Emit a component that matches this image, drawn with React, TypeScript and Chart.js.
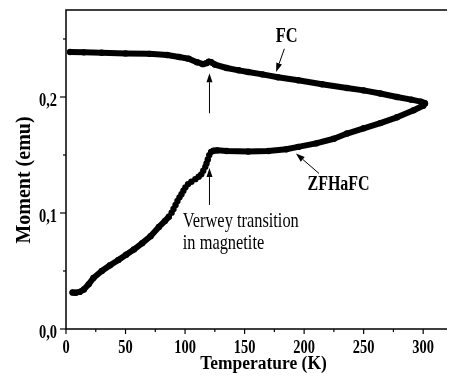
import React, { useEffect, useRef } from "react";
import { Chart, registerables } from "chart.js";

Chart.register(...registerables);

// ---- Data ----
const FC_T = [3.5, 15, 30, 50, 70, 85, 95, 103, 110, 115, 118, 120, 122, 125, 135, 145, 153, 165, 178, 195, 215, 236, 250, 264, 278, 290, 298, 301];
const FC_M = [0.2388, 0.2385, 0.2381, 0.2376, 0.2372, 0.2362, 0.2345, 0.233, 0.23, 0.2283, 0.2292, 0.2305, 0.23, 0.228, 0.225, 0.223, 0.2215, 0.2195, 0.217, 0.2144, 0.211, 0.2078, 0.2057, 0.203, 0.2, 0.1977, 0.196, 0.1948];

const ZF_T = [5.5, 8, 11.5, 15, 19, 23, 30, 37, 44, 50.5, 57, 64, 71, 78, 83, 86.4, 88.7, 90.3, 92, 93.6, 95.3, 97, 98.6, 100.3, 102.5, 105.3, 108.6, 111.4, 113.6, 115.3, 117, 118, 119.1, 120.3, 121.9, 124, 127, 135, 153, 170, 185, 195, 210, 225, 236, 250, 264, 278, 292, 300, 301.5];
const ZF_M = [0.0315, 0.0313, 0.032, 0.034, 0.0385, 0.044, 0.05, 0.055, 0.0595, 0.064, 0.0685, 0.074, 0.08, 0.088, 0.093, 0.0968, 0.1003, 0.1034, 0.1069, 0.1103, 0.1135, 0.1161, 0.1192, 0.1221, 0.1249, 0.1269, 0.1292, 0.1312, 0.1333, 0.1364, 0.1398, 0.1427, 0.1462, 0.1499, 0.1527, 0.1537, 0.154, 0.1535, 0.153, 0.1535, 0.155, 0.157, 0.16, 0.164, 0.1685, 0.173, 0.1775, 0.1825, 0.1886, 0.1925, 0.1945];

// ---- Axes ----
const X_MIN = 0;
const X_MAX = 320;
const Y_MIN = 0;
const Y_MAX = 0.275;
const X_TICKS = [0, 25, 50, 75, 100, 125, 150, 175, 200, 225, 250, 275, 300];
const X_TICK_LABELS = ["0", "", "50", "", "100", "", "150", "", "200", "", "250", "", "300"];
const Y_TICKS = [0, 0.05, 0.1, 0.15, 0.2, 0.25];
const Y_TICK_LABELS = ["0,0", "", "0,1", "", "0,2", ""];

const X_TITLE = "Temperature (K)";
const Y_TITLE = "Moment (emu)";
const FC_LABEL = "FC";
const ZF_LABEL = "ZFHaFC";
const VERWEY_LINES = ["Verwey transition", "in magnetite"];

const SERIF = "'Liberation Serif', 'Times New Roman', serif";

function drawText(ctx: CanvasRenderingContext2D, s: string, x: number, y: number, font: string, align: CanvasTextAlign, sx: number) {
  ctx.save();
  ctx.translate(x, y);
  ctx.scale(sx, 1);
  ctx.font = font;
  ctx.textAlign = align;
  ctx.textBaseline = "alphabetic";
  ctx.fillStyle = "#000";
  ctx.fillText(s, 0, 0);
  ctx.restore();
}

function arrow(ctx: CanvasRenderingContext2D, x0: number, y0: number, x1: number, y1: number) {
  const ang = Math.atan2(y1 - y0, x1 - x0);
  const hl = 9;
  const hw = 3;
  const bx = x1 - hl * Math.cos(ang);
  const by = y1 - hl * Math.sin(ang);
  ctx.beginPath();
  ctx.moveTo(x0, y0);
  ctx.lineTo(bx, by);
  ctx.lineWidth = 1;
  ctx.strokeStyle = "#000";
  ctx.stroke();
  ctx.beginPath();
  ctx.moveTo(x1, y1);
  ctx.lineTo(bx + hw * Math.sin(ang), by - hw * Math.cos(ang));
  ctx.lineTo(bx - hw * Math.sin(ang), by + hw * Math.cos(ang));
  ctx.closePath();
  ctx.fillStyle = "#000";
  ctx.fill();
}

const decorPlugin = {
  id: "decor",
  afterDraw(chart: any) {
    const ctx: CanvasRenderingContext2D = chart.ctx;
    const { left, right, top, bottom } = chart.chartArea;
    const xs = chart.scales.x;
    const ys = chart.scales.y;
    const X = (v: number) => xs.getPixelForValue(v);
    const Y = (v: number) => ys.getPixelForValue(v);
    ctx.save();

    // axes frame (left, bottom, top)
    ctx.strokeStyle = "#000";
    ctx.lineWidth = 1.5;
    ctx.beginPath();
    ctx.moveTo(right, top);
    ctx.lineTo(left, top);
    ctx.lineTo(left, bottom);
    ctx.lineTo(right, bottom);
    ctx.stroke();

    const tickFont = `bold 19px ${SERIF}`;
    ctx.lineWidth = 1.2;

    // x ticks & labels
    xs.ticks.forEach((t: any, i: number) => {
      const px = X(t.value);
      const lab = X_TICK_LABELS[i] || "";
      ctx.beginPath();
      ctx.moveTo(px, bottom);
      ctx.lineTo(px, bottom + (lab ? 5 : 3));
      ctx.stroke();
      if (lab) drawText(ctx, lab, px, 353, tickFont, "center", 0.76);
    });

    // y ticks & labels
    ys.ticks.forEach((t: any, i: number) => {
      const py = Y(t.value);
      const lab = Y_TICK_LABELS[i] || "";
      ctx.beginPath();
      ctx.moveTo(left, py);
      ctx.lineTo(left - (lab ? 6 : 3), py);
      ctx.stroke();
      if (lab) drawText(ctx, lab, 57, py + 9, tickFont, "right", 0.76);
    });

    // axis titles
    drawText(ctx, X_TITLE, 263.5, 369, `bold 18px ${SERIF}`, "center", 0.97);
    ctx.save();
    ctx.translate(29.5, 180);
    ctx.rotate(-Math.PI / 2);
    ctx.font = `bold 20px ${SERIF}`;
    ctx.textAlign = "center";
    ctx.textBaseline = "alphabetic";
    ctx.fillStyle = "#000";
    ctx.fillText(Y_TITLE, 0, 0);
    ctx.restore();

    // annotations
    drawText(ctx, FC_LABEL, X(185.4), Y(0.247), `bold 21px ${SERIF}`, "center", 0.78);
    arrow(ctx, X(183.4), Y(0.2416), X(176.5), Y(0.2215));
    arrow(ctx, X(120.5), Y(0.186), X(120.5), Y(0.2205));
    arrow(ctx, X(120.5), Y(0.107), X(120.5), Y(0.1387));
    drawText(ctx, ZF_LABEL, X(202.8), Y(0.1198), `bold 20px ${SERIF}`, "left", 0.8);
    arrow(ctx, X(212.5), Y(0.1341), X(193.1), Y(0.1513));
    drawText(ctx, VERWEY_LINES[0], X(98.1), Y(0.0877), `21px ${SERIF}`, "left", 0.78);
    drawText(ctx, VERWEY_LINES[1], X(98.1), Y(0.0688), `21px ${SERIF}`, "left", 0.78);

    ctx.restore();
  },
};

export default function App() {
  const ref = useRef<HTMLCanvasElement | null>(null);

  useEffect(() => {
    if (!ref.current) return;
    const fc = FC_T.map((t, i) => ({ x: t, y: FC_M[i] }));
    const zf = ZF_T.map((t, i) => ({ x: t, y: ZF_M[i] }));
    const chart = new Chart(ref.current, {
      type: "scatter",
      data: {
        datasets: [
          {
            label: FC_LABEL,
            data: fc,
            showLine: true,
            borderColor: "#000",
            borderWidth: 6,
            backgroundColor: "#000",
            pointRadius: 3.2,
            pointBorderWidth: 0,
            pointBackgroundColor: "#000",
            tension: 0,
            borderCapStyle: "round",
            borderJoinStyle: "round",
          },
          {
            label: ZF_LABEL,
            data: zf,
            showLine: true,
            borderColor: "#000",
            borderWidth: 6,
            backgroundColor: "#000",
            pointRadius: 3.2,
            pointBorderWidth: 0,
            pointBackgroundColor: "#000",
            tension: 0,
            borderCapStyle: "round",
            borderJoinStyle: "round",
            segment: {
              borderColor: (c: any) =>
                ZF_T[c.p0DataIndex] >= 86 && ZF_T[c.p1DataIndex] <= 122 ? "rgba(0,0,0,0)" : "#000",
            },
          } as any,
        ],
      },
      options: {
        animation: false,
        responsive: false,
        devicePixelRatio: 1,
        events: [],
        layout: { padding: { top: 10, right: 0, left: 0, bottom: 0 } },
        plugins: { legend: { display: false }, tooltip: { enabled: false } },
        scales: {
          x: {
            type: "linear",
            min: X_MIN,
            max: X_MAX,
            ticks: { display: false },
            grid: { display: false },
            border: { display: false },
            afterBuildTicks: (s: any) => {
              s.ticks = X_TICKS.map((v) => ({ value: v }));
            },
            afterFit: (s: any) => {
              s.height = 56;
            },
          },
          y: {
            type: "linear",
            min: Y_MIN,
            max: Y_MAX,
            ticks: { display: false },
            grid: { display: false },
            border: { display: false },
            afterBuildTicks: (s: any) => {
              s.ticks = Y_TICKS.map((v) => ({ value: v }));
            },
            afterFit: (s: any) => {
              s.width = 66;
            },
          },
        },
      },
      plugins: [decorPlugin],
    });
    return () => chart.destroy();
  }, []);

  return (
    <div style={{ position: "fixed", left: 0, top: 0, width: 451, height: 385, background: "#fff" }}>
      <canvas ref={ref} width={451} height={385} style={{ display: "block" }} />
    </div>
  );
}
